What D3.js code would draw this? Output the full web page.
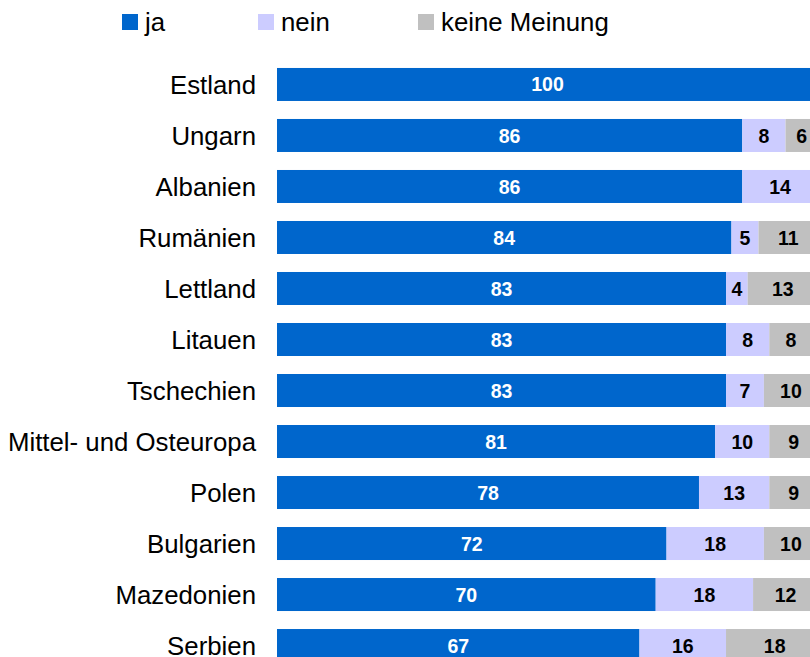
<!DOCTYPE html>
<html><head><meta charset="utf-8">
<script src="https://cdn.jsdelivr.net/npm/d3@7/dist/d3.min.js"></script>
<style>body{margin:0;background:#fff;overflow:hidden}svg{display:block}text{font-family:"Liberation Sans",Arial,sans-serif}</style>
</head><body><svg id="c" width="810" height="657"></svg>
<script>
const categories = ["Estland","Ungarn","Albanien","Rumänien","Lettland","Litauen","Tschechien","Mittel- und Osteuropa","Polen","Bulgarien","Mazedonien","Serbien"];
const ja = [100,86,86,84,83,83,83,81,78,72,70,67];
const nein = [0,8,14,5,4,8,7,10,13,18,18,16];
const keine = [0,6,0,11,13,8,10,9,9,10,12,18];
const seriesNames = ["ja","nein","keine Meinung"];
const colors = ["#0066cc","#ccccff","#c0c0c0"];
const labelColors = ["#ffffff","#000000","#000000"];

const svg = d3.select("#c");
const x = d3.scaleLinear().domain([0,100]).range([277,818]);
const y = d3.scaleBand().domain(categories).range([59,671]).paddingInner(0.353).paddingOuter(0.176);

const rows = categories.map((c,i)=>({cat:c, ja:ja[i], nein:nein[i], keine:keine[i]}));
const stack = d3.stack().keys(["ja","nein","keine"])(rows);

stack.forEach((layer,si)=>{
  const g = svg.append("g");
  g.selectAll("rect").data(layer).join("rect")
    .attr("x",d=>x(d[0])).attr("width",d=>x(d[1])-x(d[0]))
    .attr("y",d=>y(d.data.cat)).attr("height",y.bandwidth())
    .attr("fill",colors[si]);
  g.selectAll("text").data(layer.filter(d=>d[1]-d[0]>0)).join("text")
    .attr("x",d=>(x(d[0])+x(d[1]))/2)
    .attr("y",d=>y(d.data.cat)+y.bandwidth()/2)
    .attr("dy","0.36em").attr("text-anchor","middle")
    .attr("font-size",19.5).attr("font-weight","bold")
    .attr("fill",labelColors[si])
    .text(d=>d[1]-d[0]);
});

svg.append("g").selectAll("text").data(categories).join("text")
  .attr("x",256).attr("y",d=>y(d)+y.bandwidth()/2).attr("dy","0.36em")
  .attr("text-anchor","end").attr("font-size",25.8).attr("fill","#000")
  .text(d=>d);

const legendX = [122,258,418];
const lg = svg.append("g");
seriesNames.forEach((n,i)=>{
  lg.append("rect").attr("x",legendX[i]).attr("y",14).attr("width",16).attr("height",16).attr("fill",colors[i]);
  lg.append("text").attr("x",legendX[i]+23).attr("y",22).attr("dy","0.36em").attr("font-size",25.8).attr("fill","#000").text(n);
});
</script></body></html>
